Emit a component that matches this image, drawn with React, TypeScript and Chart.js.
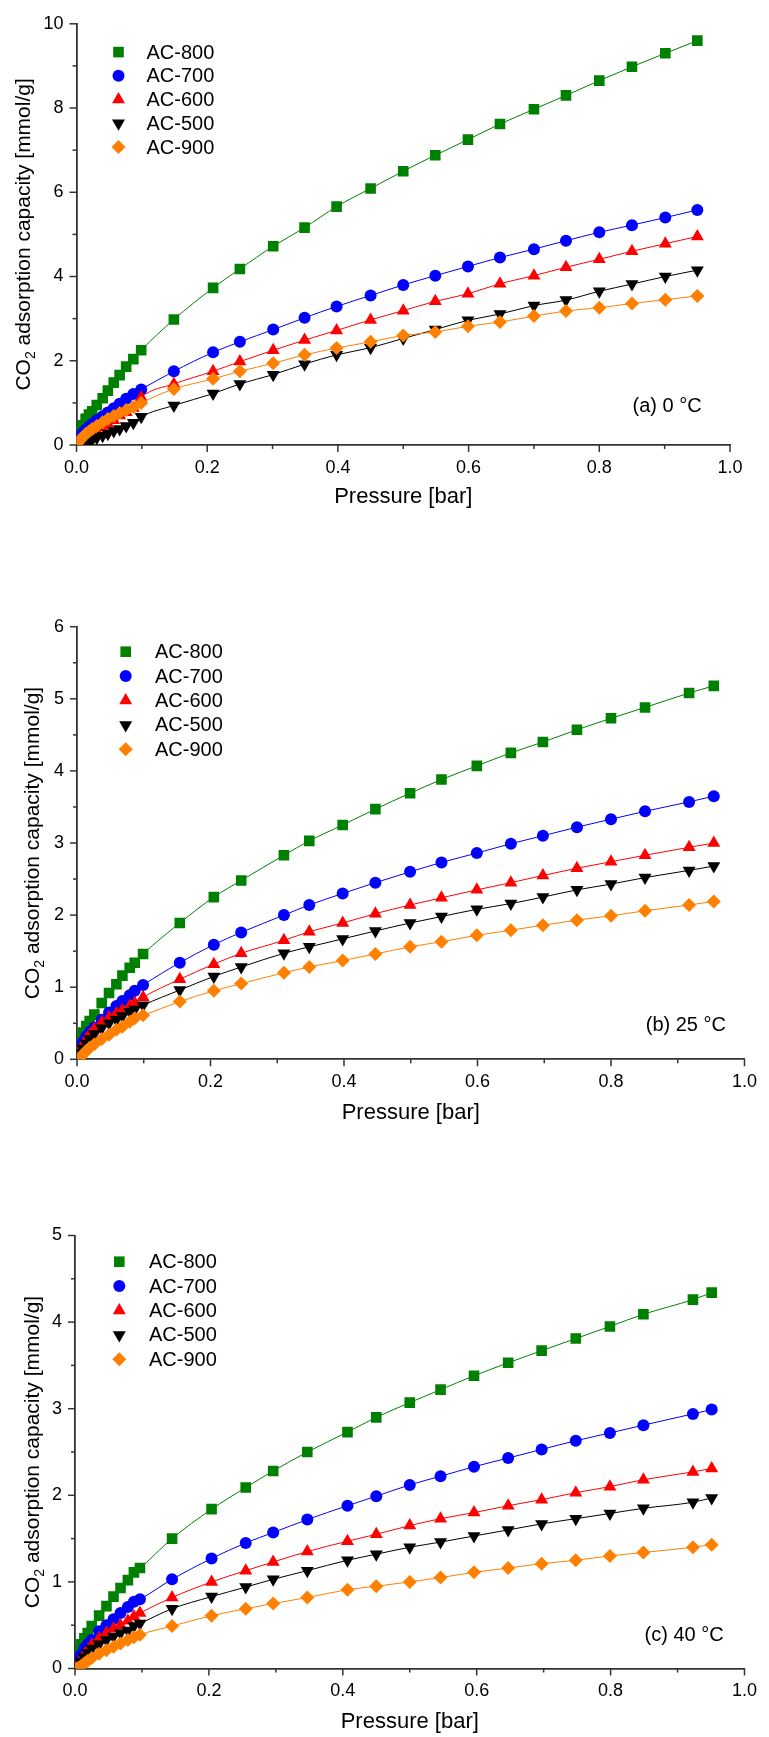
import React, { useEffect, useRef } from 'react';
import { Chart, registerables } from 'chart.js';
import { drawPoint } from 'chart.js/helpers';

Chart.register(...registerables);

// ---------- DATA ----------
const SERIES_NAMES = ['AC-800', 'AC-700', 'AC-600', 'AC-500', 'AC-900'];

// (a) 0 °C
const PRESSURE_A = [0.002, 0.005, 0.009, 0.014, 0.019, 0.024, 0.031, 0.040, 0.048, 0.057, 0.066, 0.076, 0.087, 0.099, 0.149, 0.209, 0.25, 0.301, 0.349, 0.398, 0.45, 0.5, 0.549, 0.599, 0.648, 0.7, 0.749, 0.8, 0.85, 0.901, 0.95];
const A_AC800 = [0.22, 0.33, 0.47, 0.62, 0.72, 0.80, 0.95, 1.11, 1.29, 1.48, 1.66, 1.86, 2.04, 2.25, 2.98, 3.73, 4.18, 4.72, 5.16, 5.66, 6.09, 6.50, 6.88, 7.25, 7.62, 7.97, 8.30, 8.65, 8.98, 9.30, 9.60];
const A_AC700 = [0.12, 0.20, 0.28, 0.36, 0.43, 0.50, 0.59, 0.68, 0.77, 0.87, 0.98, 1.10, 1.21, 1.32, 1.75, 2.20, 2.45, 2.74, 3.02, 3.29, 3.55, 3.80, 4.02, 4.24, 4.45, 4.65, 4.85, 5.05, 5.22, 5.40, 5.58];
const A_AC600 = [0.0, 0.03, 0.07, 0.12, 0.18, 0.24, 0.32, 0.42, 0.50, 0.59, 0.70, 0.78, 0.88, 1.13, 1.45, 1.75, 1.98, 2.25, 2.49, 2.72, 2.97, 3.19, 3.41, 3.59, 3.83, 4.02, 4.22, 4.41, 4.60, 4.78, 4.95];
const A_AC500 = [0.0, 0.02, 0.04, 0.07, 0.10, 0.13, 0.17, 0.22, 0.27, 0.33, 0.38, 0.45, 0.53, 0.67, 0.94, 1.22, 1.45, 1.67, 1.92, 2.14, 2.31, 2.53, 2.74, 2.96, 3.11, 3.31, 3.44, 3.65, 3.82, 4.00, 4.15];
const A_AC900 = [0.05, 0.11, 0.18, 0.26, 0.32, 0.38, 0.45, 0.54, 0.62, 0.69, 0.76, 0.83, 0.90, 1.0, 1.33, 1.57, 1.75, 1.94, 2.14, 2.30, 2.45, 2.60, 2.68, 2.82, 2.92, 3.06, 3.18, 3.26, 3.36, 3.45, 3.54];

// (b) 25 °C
const PRESSURE_B = [0.002, 0.005, 0.009, 0.014, 0.019, 0.026, 0.037, 0.048, 0.059, 0.068, 0.079, 0.0865, 0.099, 0.154, 0.205, 0.246, 0.31, 0.348, 0.398, 0.447, 0.499, 0.546, 0.599, 0.65, 0.698, 0.749, 0.8, 0.851, 0.917, 0.954];
const B_AC800 = [0.2, 0.28, 0.37, 0.46, 0.53, 0.62, 0.78, 0.92, 1.04, 1.16, 1.27, 1.34, 1.46, 1.89, 2.25, 2.48, 2.83, 3.03, 3.25, 3.47, 3.69, 3.88, 4.07, 4.25, 4.40, 4.57, 4.73, 4.88, 5.08, 5.18];
const B_AC700 = [0.1, 0.17, 0.24, 0.32, 0.38, 0.44, 0.55, 0.65, 0.74, 0.81, 0.89, 0.95, 1.03, 1.34, 1.59, 1.76, 2.0, 2.14, 2.30, 2.45, 2.60, 2.73, 2.86, 2.99, 3.10, 3.22, 3.33, 3.44, 3.57, 3.65];
const B_AC600 = [0.06, 0.13, 0.2, 0.28, 0.34, 0.42, 0.51, 0.58, 0.64, 0.68, 0.74, 0.78, 0.86, 1.11, 1.32, 1.47, 1.65, 1.77, 1.89, 2.02, 2.14, 2.24, 2.35, 2.45, 2.55, 2.65, 2.74, 2.83, 2.94, 3.0];
const B_AC500 = [0.04, 0.09, 0.15, 0.22, 0.28, 0.35, 0.43, 0.50, 0.55, 0.60, 0.66, 0.69, 0.75, 0.96, 1.15, 1.28, 1.47, 1.56, 1.67, 1.78, 1.89, 1.98, 2.08, 2.16, 2.25, 2.35, 2.43, 2.52, 2.62, 2.68];
const B_AC900 = [0.0, 0.03, 0.07, 0.12, 0.16, 0.21, 0.28, 0.34, 0.41, 0.45, 0.52, 0.57, 0.61, 0.80, 0.95, 1.05, 1.20, 1.28, 1.37, 1.46, 1.56, 1.63, 1.72, 1.79, 1.86, 1.93, 1.99, 2.06, 2.14, 2.19];

// (c) 40 °C
const PRESSURE_C = [0.002, 0.005, 0.009, 0.014, 0.019, 0.025, 0.036, 0.047, 0.0575, 0.068, 0.079, 0.088, 0.097, 0.145, 0.204, 0.255, 0.296, 0.347, 0.407, 0.45, 0.5, 0.546, 0.596, 0.647, 0.697, 0.748, 0.799, 0.849, 0.923, 0.951];
const C_AC800 = [0.15, 0.22, 0.28, 0.35, 0.41, 0.49, 0.61, 0.72, 0.83, 0.93, 1.02, 1.11, 1.16, 1.50, 1.84, 2.09, 2.28, 2.50, 2.73, 2.90, 3.07, 3.22, 3.38, 3.53, 3.67, 3.81, 3.95, 4.09, 4.26, 4.34];
const C_AC700 = [0.06, 0.10, 0.16, 0.23, 0.28, 0.33, 0.43, 0.50, 0.57, 0.64, 0.71, 0.77, 0.80, 1.03, 1.27, 1.45, 1.57, 1.72, 1.88, 1.99, 2.12, 2.22, 2.33, 2.43, 2.53, 2.63, 2.72, 2.81, 2.94, 2.99];
const C_AC600 = [0.02, 0.05, 0.10, 0.16, 0.21, 0.27, 0.35, 0.41, 0.46, 0.50, 0.55, 0.60, 0.64, 0.82, 1.0, 1.13, 1.23, 1.35, 1.47, 1.55, 1.65, 1.73, 1.80, 1.88, 1.95, 2.03, 2.10, 2.18, 2.27, 2.31];
const C_AC500 = [0.02, 0.04, 0.08, 0.13, 0.18, 0.23, 0.28, 0.33, 0.37, 0.41, 0.44, 0.49, 0.52, 0.69, 0.83, 0.94, 1.03, 1.13, 1.25, 1.32, 1.40, 1.46, 1.53, 1.60, 1.67, 1.73, 1.79, 1.85, 1.92, 1.97];
const C_AC900 = [0.0, 0.01, 0.03, 0.06, 0.09, 0.12, 0.17, 0.21, 0.25, 0.29, 0.33, 0.36, 0.39, 0.49, 0.61, 0.69, 0.75, 0.82, 0.91, 0.95, 1.00, 1.05, 1.11, 1.16, 1.21, 1.25, 1.30, 1.34, 1.40, 1.43];

const X_TICK_LABELS = ['0.0', '0.2', '0.4', '0.6', '0.8', '1.0'];
const PANEL_LABELS = ['(a) 0 °C', '(b) 25 °C', '(c) 40 °C'];
const X_TITLE = 'Pressure [bar]';
const Y_TITLE_MAIN = 'CO';
const Y_TITLE_SUB = '2';
const Y_TITLE_REST = ' adsorption capacity [mmol/g]';

// ---------- STYLE ----------
const FONT = '"Liberation Sans", Arial, Helvetica, sans-serif';
const COLORS = ['#008000', '#0000ff', '#ff0000', '#000000', '#ff8000'];
const POINT_STYLES = ['rect', 'circle', 'triangle', 'triangle', 'rectRot'];
const POINT_ROT = [0, 0, 0, 180, 0];
const POINT_R = [7.5, 6, 7.5, 7.5, 7];
const AXIS_COLOR = '#333333';

type Geo = {
  top: number; height: number;
  left: number; right: number; plotTop: number; plotBottom: number;
  yMax: number; yStep: number; yMinor: number;
  legDx: number; legTextDx: number; legDy: number; legGap: number;
  labRight: number; labDy: number;
  yTitleX: number; xTitleY: number;
};

const GEOS: Geo[] = [
  { top: 0, height: 560, left: 76.5, right: 730, plotTop: 20, plotBottom: 445, yMax: 10, yStep: 2, yMinor: 1,
    legDx: 42, legTextDx: 70, legDy: 28.3, legGap: 23.75, labRight: 28.3, labDy: -38.3, yTitleX: 23, xTitleY: 496.7 },
  { top: 560, height: 610, left: 77, right: 747.5, plotTop: 626.7, plotBottom: 1059.3, yMax: 6, yStep: 1, yMinor: 0.5,
    legDx: 48.7, legTextDx: 78, legDy: 25, legGap: 24.4, labRight: 18.5, labDy: -34.3, yTitleX: 32, xTitleY: 1113 },
  { top: 1170, height: 567, left: 75, right: 753.5, plotTop: 1235.5, plotBottom: 1668.5, yMax: 5, yStep: 1, yMinor: 0.5,
    legDx: 44.3, legTextDx: 74, legDy: 26.2, legGap: 24.4, labRight: 20.8, labDy: -33.5, yTitleX: 32, xTitleY: 1721.7 },
];

const PANEL_DATA = [
  { p: PRESSURE_A, s: [A_AC800, A_AC700, A_AC600, A_AC500, A_AC900] },
  { p: PRESSURE_B, s: [B_AC800, B_AC700, B_AC600, B_AC500, B_AC900] },
  { p: PRESSURE_C, s: [C_AC800, C_AC700, C_AC600, C_AC500, C_AC900] },
];

function Panel({ idx }: { idx: number }) {
  const ref = useRef<HTMLCanvasElement | null>(null);
  const g = GEOS[idx];
  const W = 769;

  useEffect(() => {
    if (!ref.current) return;
    const d = PANEL_DATA[idx];
    const datasets = d.s.map((vals, i) => ({
      label: SERIES_NAMES[i],
      data: d.p.map((p, k) => ({ x: p, y: vals[k] })),
      showLine: true,
      borderColor: COLORS[i],
      backgroundColor: COLORS[i],
      borderWidth: 1,
      pointStyle: POINT_STYLES[i],
      pointRotation: POINT_ROT[i],
      pointRadius: POINT_R[i],
      pointBackgroundColor: COLORS[i],
      pointBorderColor: COLORS[i],
      pointBorderWidth: 0,
      cubicInterpolationMode: 'monotone',
      order: 4 - i,
    }));

    const plotTopLocal = g.plotTop - g.top;
    const plotBottomLocal = g.plotBottom - g.top;

    const overlay = {
      id: 'overlay',
      afterDraw(chart: any) {
        const ctx = chart.ctx as CanvasRenderingContext2D;
        const xs = chart.scales.x;
        const ys = chart.scales.y;
        const area = chart.chartArea;
        ctx.save();
        ctx.strokeStyle = AXIS_COLOR;
        ctx.lineWidth = 1.5;
        // y ticks
        const nY = Math.round(g.yMax / g.yMinor);
        for (let k = 0; k <= nY; k++) {
          const v = k * g.yMinor;
          const major = Math.abs(v / g.yStep - Math.round(v / g.yStep)) < 1e-6;
          const py = ys.getPixelForValue(v);
          ctx.beginPath();
          ctx.moveTo(area.left - (major ? 7 : 4), py);
          ctx.lineTo(area.left, py);
          ctx.stroke();
        }
        // x ticks
        for (let k = 0; k <= 10; k++) {
          const v = k * 0.1;
          const major = k % 2 === 0;
          const px = xs.getPixelForValue(v);
          ctx.beginPath();
          ctx.moveTo(px, area.bottom);
          ctx.lineTo(px, area.bottom + (major ? 7 : 4));
          ctx.stroke();
        }
        ctx.fillStyle = '#000';
        // x title
        ctx.font = `22px ${FONT}`;
        ctx.textAlign = 'center';
        ctx.textBaseline = 'middle';
        ctx.fillText(X_TITLE, (area.left + area.right) / 2, g.xTitleY - g.top);
        // y title with subscript
        const mainF = `21px ${FONT}`;
        const subF = `14px ${FONT}`;
        ctx.font = mainF;
        const w1 = ctx.measureText(Y_TITLE_MAIN).width;
        const w3 = ctx.measureText(Y_TITLE_REST).width;
        ctx.font = subF;
        const w2 = ctx.measureText(Y_TITLE_SUB).width;
        const total = w1 + w2 + w3;
        ctx.save();
        ctx.translate(g.yTitleX, (area.top + area.bottom) / 2);
        ctx.rotate(-Math.PI / 2);
        ctx.textAlign = 'left';
        ctx.textBaseline = 'alphabetic';
        const base = 7;
        ctx.font = mainF;
        ctx.fillText(Y_TITLE_MAIN, -total / 2, base);
        ctx.font = subF;
        ctx.fillText(Y_TITLE_SUB, -total / 2 + w1, base + 5);
        ctx.font = mainF;
        ctx.fillText(Y_TITLE_REST, -total / 2 + w1 + w2, base);
        ctx.restore();
        // legend
        for (let i = 0; i < SERIES_NAMES.length; i++) {
          const ly = area.top + g.legDy + i * g.legGap;
          ctx.fillStyle = COLORS[i];
          ctx.strokeStyle = COLORS[i];
          drawPoint(ctx, { pointStyle: POINT_STYLES[i], rotation: POINT_ROT[i], radius: POINT_R[i], borderWidth: 0 } as any, area.left + g.legDx, ly);
          ctx.fillStyle = '#000';
          ctx.font = `20px ${FONT}`;
          ctx.textAlign = 'left';
          ctx.textBaseline = 'middle';
          ctx.fillText(SERIES_NAMES[i], area.left + g.legTextDx, ly + 1);
        }
        // panel label
        ctx.fillStyle = '#000';
        ctx.font = `20px ${FONT}`;
        ctx.textAlign = 'right';
        ctx.textBaseline = 'middle';
        ctx.fillText(PANEL_LABELS[idx], area.right - g.labRight, area.bottom + g.labDy);
        ctx.restore();
      },
    };

    const chart = new Chart(ref.current, {
      type: 'scatter',
      data: { datasets: datasets as any },
      options: {
        animation: false,
        responsive: false,
        devicePixelRatio: 1,
        layout: { padding: { top: plotTopLocal, right: W - g.right, left: 0, bottom: 0 } },
        plugins: { legend: { display: false }, tooltip: { enabled: false } },
        scales: {
          x: {
            type: 'linear',
            min: 0,
            max: 1,
            afterFit: (s: any) => { s.height = g.height - plotBottomLocal; },
            afterBuildTicks: (s: any) => { s.ticks = X_TICK_LABELS.map((t) => ({ value: parseFloat(t) })); },
            ticks: {
              callback: (v: any) => Number(v).toFixed(1),
              font: { family: FONT, size: 18 },
              color: '#000',
              padding: 12,
              maxRotation: 0,
              autoSkip: false,
            },
            grid: { display: false, drawTicks: false },
            border: { display: true, color: AXIS_COLOR, width: 1.8 },
          },
          y: {
            type: 'linear',
            min: 0,
            max: g.yMax,
            afterFit: (s: any) => { s.width = g.left; },
            ticks: {
              stepSize: g.yStep,
              callback: (v: any) => String(Math.round(Number(v))),
              font: { family: FONT, size: 18 },
              color: '#000',
              padding: 13,
              autoSkip: false,
            },
            grid: { display: false, drawTicks: false },
            border: { display: true, color: AXIS_COLOR, width: 1.8 },
          },
        },
      },
      plugins: [overlay],
    } as any);
    return () => chart.destroy();
  }, [idx]);

  return (
    <canvas
      ref={ref}
      width={W}
      height={g.height}
      style={{ position: 'absolute', left: 0, top: g.top, width: W, height: g.height, display: 'block' }}
    />
  );
}

export default function App() {
  return (
    <div style={{ position: 'absolute', left: 0, top: 0, width: 769, height: 1737, background: '#fff' }}>
      <Panel idx={0} />
      <Panel idx={1} />
      <Panel idx={2} />
    </div>
  );
}
